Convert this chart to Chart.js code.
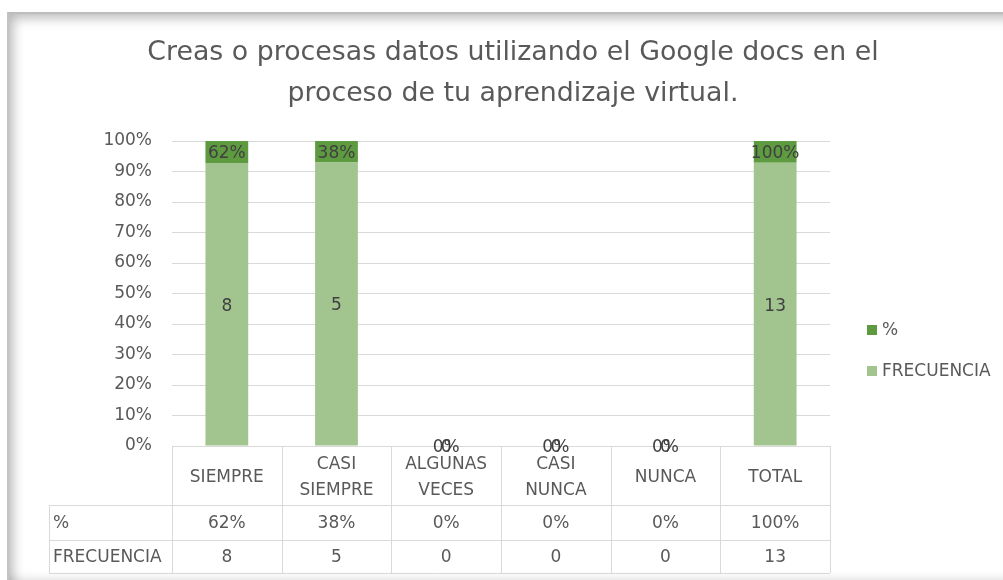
<!DOCTYPE html>
<html>
<head>
<meta charset="utf-8">
<script src="https://cdn.jsdelivr.net/npm/chart.js@4.4.1/dist/chart.umd.min.js"></script>
<style>
  html, body { margin: 0; padding: 0; background: #fff; }
  #wrap { position: relative; width: 1003px; height: 580px; overflow: hidden; }
  #frame {
    position: absolute; left: 7px; top: 12px; width: 994px; height: 566px;
    border-top: 2px solid #bdbdbd; border-left: 2px solid #c4c4c4;
    box-shadow: inset 12px 12px 12px -8px rgba(0,0,0,0.28), inset 0 -8px 8px -6px rgba(0,0,0,0.12);
  }
  #chart { position: absolute; left: 0; top: 0; }
</style>
</head>
<body>
<div id="wrap">
  <div id="frame"></div>
  <canvas id="chart" width="1003" height="580"></canvas>
</div>
<script>
document.addEventListener("DOMContentLoaded", () => {
  const FONT = '"DejaVu Sans", sans-serif';

  const titleLines = ["Creas o procesas datos utilizando el Google docs en el", "proceso de tu aprendizaje virtual."];
  const categories = [["SIEMPRE"], ["CASI", "SIEMPRE"], ["ALGUNAS", "VECES"], ["CASI", "NUNCA"], ["NUNCA"], ["TOTAL"]];
  const frecuencia = [8, 5, 0, 0, 0, 13];
  const porcentaje = [62, 38, 0, 0, 0, 100];
  const yTicks = [0, 10, 20, 30, 40, 50, 60, 70, 80, 90, 100];

  // 100% stacked: each column's share of the category total
  const share = (vals, i) => {
    const tot = frecuencia[i] + porcentaje[i] / 100;
    return tot ? vals / tot * 100 : 0;
  };
  const frecShare = frecuencia.map((v, i) => share(v, i));
  const pctShare = porcentaje.map((v, i) => share(v / 100, i));

  const LIGHT = "#a2c58f";
  const DARK = "#5e9b40";
  const TEXT = "#595959";
  const LINE = "#d9d9d9";

  const tablePlugin = {
    id: "excelExtras",
    afterDraw(chart) {
      const ctx = chart.ctx;
      const x = chart.scales.x;
      const area = chart.chartArea;
      const n = categories.length;
      const colW = (area.right - area.left) / n;
      const top = area.bottom;
      const r1 = top + 59, r2 = r1 + 35, r3 = r2 + 33;
      const leftCol = 49;

      ctx.save();
      // title
      ctx.fillStyle = TEXT;
      ctx.font = "26.8px " + FONT;
      ctx.textAlign = "center";
      ctx.textBaseline = "middle";
      ctx.fillText(titleLines[0], 513, 53);
      ctx.fillText(titleLines[1], 513, 94);

      // table lines
      ctx.strokeStyle = LINE;
      ctx.lineWidth = 1;
      ctx.beginPath();
      ctx.moveTo(area.left, top + 0.5); ctx.lineTo(area.right, top + 0.5);
      [r1, r2, r3].forEach(y => { ctx.moveTo(leftCol, y + 0.5); ctx.lineTo(area.right, y + 0.5); });
      ctx.moveTo(leftCol + 0.5, r1); ctx.lineTo(leftCol + 0.5, r3);
      for (let i = 0; i <= n; i++) {
        const xx = Math.round(area.left + i * colW) + 0.5;
        ctx.moveTo(xx, top); ctx.lineTo(xx, r3);
      }
      ctx.stroke();

      // table text
      ctx.font = "17px " + FONT;
      ctx.fillStyle = TEXT;
      categories.forEach((lines, i) => {
        const cx = x.getPixelForValue(i);
        const mid = (top + r1) / 2 + 2;
        lines.forEach((ln, k) => {
          ctx.fillText(ln, cx, mid + (k - (lines.length - 1) / 2) * 26);
        });
        ctx.fillText(porcentaje[i] + "%", cx, (r1 + r2) / 2 + 1);
        ctx.fillText(String(frecuencia[i]), cx, (r2 + r3) / 2 + 1);
      });
      ctx.textAlign = "left";
      ctx.fillText("%", leftCol + 4, (r1 + r2) / 2 + 1);
      ctx.fillText("FRECUENCIA", leftCol + 4, (r2 + r3) / 2 + 1);

      // data labels
      ctx.textAlign = "center";
      ctx.fillStyle = "#404040";
      chart.data.datasets.forEach((ds, di) => {
        chart.getDatasetMeta(di).data.forEach((bar, i) => {
          const y = (bar.y + bar.base) / 2 + 2;
          const txt = di === 0 ? String(frecuencia[i]) : porcentaje[i] + "%";
          ctx.fillText(txt, bar.x, y);
        });
      });

      // legend (% first, like Excel)
      const legend = [[chart.data.datasets[1], 330], [chart.data.datasets[0], 371]];
      ctx.textAlign = "left";
      legend.forEach(([ds, y]) => {
        ctx.fillStyle = ds.backgroundColor;
        ctx.fillRect(867, y - 5, 10, 10);
        ctx.fillStyle = TEXT;
        ctx.fillText(ds.label, 882, y + 1);
      });
      ctx.restore();
    }
  };

  new Chart(document.getElementById("chart").getContext("2d"), {
    type: "bar",
    data: {
      labels: categories,
      datasets: [
        { label: "FRECUENCIA", data: frecShare, backgroundColor: LIGHT, barPercentage: 0.39, categoryPercentage: 1 },
        { label: "%", data: pctShare, backgroundColor: DARK, barPercentage: 0.39, categoryPercentage: 1 }
      ]
    },
    options: {
      responsive: false,
      animation: false,
      layout: { padding: { top: 141, right: 173, bottom: 134, left: 0 } },
      plugins: {
        legend: { display: false },
        title: { display: false },
        tooltip: { enabled: false }
      },
      scales: {
        x: { stacked: true, display: false },
        y: {
          stacked: true,
          min: 0,
          max: 100,
          afterFit(scale) { scale.width = 172; },
          afterBuildTicks(scale) { scale.ticks = yTicks.map(v => ({ value: v })); },
          border: { display: false },
          grid: { color: LINE, drawTicks: false },
          ticks: {
            padding: 20,
            color: TEXT,
            font: { family: FONT, size: 17 },
            callback: v => v + "%"
          }
        }
      }
    },
    plugins: [tablePlugin]
  });
});
</script>
</body>
</html>
